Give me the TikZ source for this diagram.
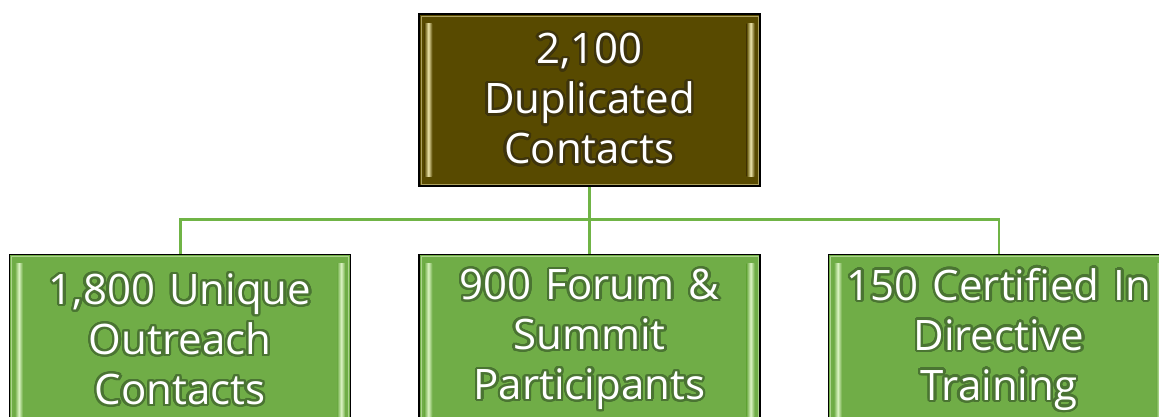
\documentclass[tikz,border=0pt]{standalone}
\usepackage{fontspec}
\setmainfont{Open Sans}
\usepackage[copies]{contour}
\usetikzlibrary{positioning, backgrounds}
\definecolor{dupolive}{RGB}{88,74,0}
\definecolor{dupglow}{RGB}{62,52,12}
\definecolor{dupbevel}{RGB}{238,230,172}
\definecolor{reachgreen}{RGB}{112,173,71}
\definecolor{reachglow}{RGB}{74,116,50}
\definecolor{reachbevel}{RGB}{220,244,196}
\definecolor{linkgreen}{RGB}{112,180,70}
\contourlength{1.8pt}
\contournumber{32}
\newcommand{\glowtext}[2]{\contour{#1}{#2}}

\begin{document}
\begin{tikzpicture}[x=0.75pt, y=-0.75pt, node distance=50.25pt,
    box/.style={rectangle, draw=black, line width=1.1pt, minimum width=255.75pt, minimum height=129pt,
                text width=254pt, align=center, inner sep=0pt, text=white,
                font=\fontsize{31.5}{37.5}\selectfont},
    bevel/.style 2 args={path picture={
        \draw [#2!55!#1, line width=0.7pt]
            ([shift={(1.5pt,-1.5pt)}]path picture bounding box.north west)
            rectangle ([shift={(-1.5pt,1.5pt)}]path picture bounding box.south east);
        \shade [left color=#1, right color=#1, middle color=#2]
            ([shift={(4pt,-7pt)}]path picture bounding box.north west)
            rectangle ([shift={(10pt,7pt)}]path picture bounding box.south west);
        \shade [left color=#1, right color=#1, middle color=#2]
            ([shift={(-10pt,-7pt)}]path picture bounding box.north east)
            rectangle ([shift={(-4pt,7pt)}]path picture bounding box.south east);}},
    topbox/.style={box, fill=dupolive, bevel={dupolive}{dupbevel}},
    subbox/.style={box, fill=reachgreen, bevel={reachgreen}{reachbevel}},
    link/.style={draw=linkgreen, line width=2.2pt}]

\useasboundingbox (0,0) rectangle (1159,417);

% Total
\node (dup) [topbox] at (589.5,100)
    {\glowtext{dupglow}{2,100}\\ \glowtext{dupglow}{Duplicated}\\ \glowtext{dupglow}{Contacts}};

% Breakdown
\node (forum)     [subbox, below=50.25pt of dup]
    {\glowtext{reachglow}{900 Forum \&}\\ \glowtext{reachglow}{Summit}\\ \glowtext{reachglow}{Participants}};
\node (outreach)  [subbox, left=50.25pt of forum]
    {\glowtext{reachglow}{1,800 Unique}\\ \glowtext{reachglow}{Outreach}\\ \glowtext{reachglow}{Contacts}};
\node (certified) [subbox, right=50.25pt of forum]
    {\glowtext{reachglow}{150 Certified In}\\ \glowtext{reachglow}{Directive}\\ \glowtext{reachglow}{Training}};

% Connectors
\path (dup.south) ++(0,33) coordinate (bar);
\begin{scope}[on background layer]
\draw [link] (dup.south) -- (forum.north);
\draw [link] (outreach.north) |- (bar) -| (certified.north);
\end{scope}
\end{tikzpicture}
\end{document}
